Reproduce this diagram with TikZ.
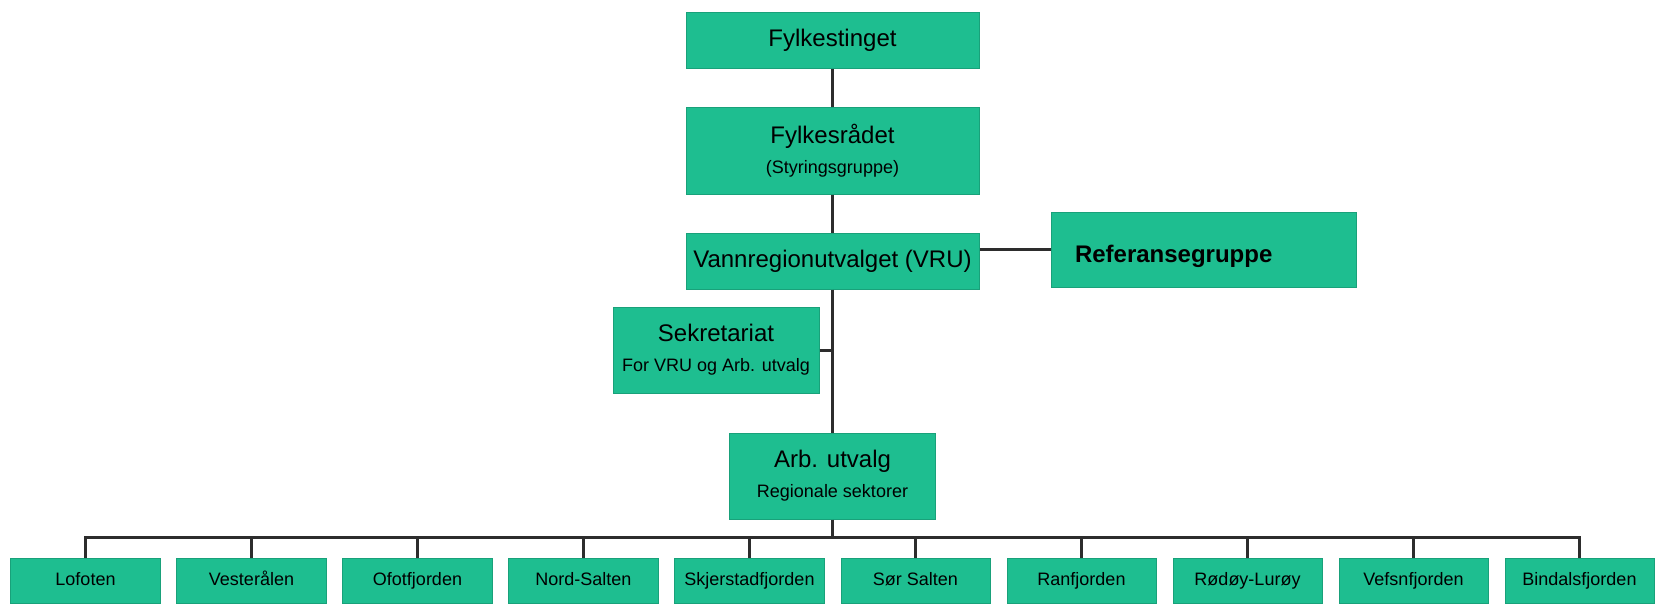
\documentclass[tikz,border=0pt]{standalone}
\usepackage{fontspec}
\setmainfont{Liberation Sans}
\usepackage{tikz}
\usetikzlibrary{matrix}
\definecolor{boxgreen}{RGB}{30,190,144}
\definecolor{linegray}{RGB}{45,45,45}
\newcommand{\lrgfont}{\fontsize{24}{30}\selectfont}
\newcommand{\smlfont}{\fontsize{18}{30}\selectfont}

\begin{document}
\begin{tikzpicture}[x=1pt,y=-1pt,line width=3pt,draw=linegray]
  \tikzstyle{orgbox}=[fill=boxgreen,draw=boxgreen!85!black,line width=1pt,
  inner sep=2pt,align=center,font=\lrgfont]
  \tikzstyle{areabox}=[orgbox,minimum width=149pt,minimum height=45pt,font=\smlfont,
  text height=14pt,text depth=4pt]
  \useasboundingbox (0,0) rectangle (1659,603);

  \node[orgbox,minimum width=293pt,minimum height=56pt] (ting) at (832.5,40) {Fylkestinget};
  \node[orgbox,minimum width=293pt,minimum height=87pt] (raad) at (832.5,150.5)
    {Fylkesrådet\\{\smlfont (Styringsgruppe)}};
  \node[orgbox,minimum width=293pt,minimum height=56pt] (vru) at (832.5,261)
    {Vannregionutvalget (VRU)};
  \node[orgbox,minimum width=305pt,minimum height=75pt,font=\lrgfont\bfseries,
    text width=257pt,text height=32pt,align=left] (ref) at (1203.5,249.5) {Referansegruppe};
  \node[orgbox,minimum width=206pt,minimum height=86pt] (sek) at (716,350)
    {Sekretariat\\{\smlfont For VRU og Arb. utvalg}};
  \node[orgbox,minimum width=206pt,minimum height=86pt] (arb) at (832.5,476)
    {Arb. utvalg\\{\smlfont Regionale sektorer}};
  \coordinate (bus) at (832.5,537);

  \matrix (m) at (832.5,580.5) [column sep=16pt] {
  \node[areabox](lof) {Lofoten}; &
  \node[areabox](ves) {Vesterålen}; &
  \node[areabox](ofo) {Ofotfjorden}; &
  \node[areabox](nsa) {Nord-Salten}; &
  \node[areabox](skj) {Skjerstadfjorden}; &
  \node[areabox](ssa) {Sør Salten}; &
  \node[areabox](ran) {Ranfjorden}; &
  \node[areabox](rod) {Rødøy-Lurøy}; &
  \node[areabox](vef) {Vefsnfjorden}; &
  \node[areabox](bin) {Bindalsfjorden}; \\
  };

  \draw (ting) -- (raad) (raad) -- (vru) (vru) -- (arb);
  \draw (ref.west) -- (ref.west -| vru.east);
  \draw (sek.east) -- (sek.east -| vru.south);
  \draw (arb) -- (bus);
  \draw (lof.north) |- (bus) (ves.north) |- (bus) (ofo.north) |- (bus)
        (nsa.north) |- (bus) (skj.north) |- (bus) (ssa.north) |- (bus)
        (ran.north) |- (bus) (rod.north) |- (bus) (vef.north) |- (bus)
        (bin.north) |- (bus);

\end{tikzpicture}
\end{document}
